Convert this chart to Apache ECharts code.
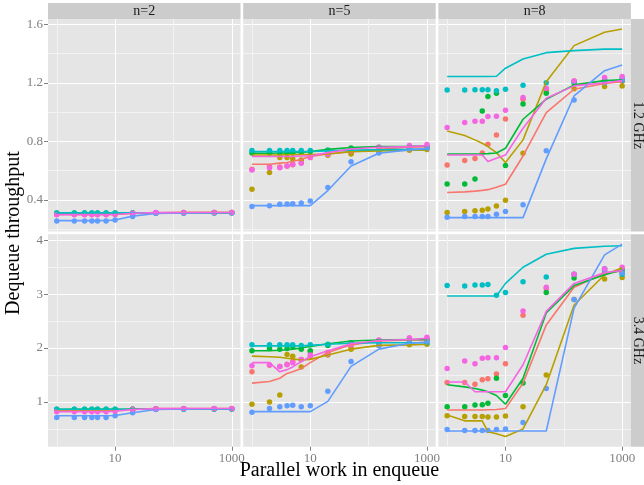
<!DOCTYPE html>
<html><head><meta charset="utf-8">
<script src="https://cdn.jsdelivr.net/npm/echarts@6/dist/echarts.min.js"></script>
<style>html,body{margin:0;padding:0;background:#fff}#c{width:644px;height:485px}</style>
</head><body><div id="c"></div>
<script>
// ---------- categories / ticks ----------
const xValues = [1, 2, 3, 4, 5, 7, 10, 20, 50, 150, 500, 1000];
const groupNames = ['g1', 'g2', 'g3', 'g4', 'g5', 'g6'];
const colColors = ['#F8766D', '#B79F00', '#00BA38', '#00BFC4', '#619CFF', '#F564E3'];
const colStrips = ['n=2', 'n=5', 'n=8'];
const rowStrips = ['1.2 GHz', '3.4 GHz'];
const xTickLabels = [10, 1000];
const xGridValues = [1, 10, 100, 1000];
const yTickLabelsTop = [0.4, 0.8, 1.2, 1.6];
const yGridTop = [0.2, 0.4, 0.6, 0.8, 1.0, 1.2, 1.4, 1.6];
const yTickLabelsBottom = [1, 2, 3, 4];
const yGridBottom = [0.5, 1, 1.5, 2, 2.5, 3, 3.5, 4];
const xTitle = 'Parallel work in enqueue';
const yTitle = 'Dequeue throughput';

// ---------- n=2, 1.2 GHz ----------
const n2_12_pts_g1 = [0.300,0.300,0.300,0.300,0.300,0.300,0.301,0.309,0.312,0.313,0.313,0.313];
const n2_12_pts_g2 = [0.305,0.305,0.305,0.305,0.305,0.305,0.306,0.309,0.312,0.313,0.313,0.313];
const n2_12_pts_g3 = [0.310,0.310,0.310,0.310,0.310,0.310,0.310,0.311,0.311,0.311,0.312,0.312];
const n2_12_pts_g4 = [0.311,0.311,0.311,0.311,0.311,0.311,0.311,0.311,0.311,0.311,0.311,0.311];
const n2_12_pts_g5 = [0.256,0.256,0.256,0.256,0.256,0.256,0.263,0.286,0.309,0.311,0.312,0.312];
const n2_12_pts_g6 = [0.299,0.299,0.299,0.299,0.299,0.299,0.300,0.309,0.313,0.314,0.314,0.314];
const n2_12_line_g1 = [0.300,0.300,0.300,0.300,0.300,0.300,0.301,0.309,0.312,0.313,0.313,0.313];
const n2_12_line_g2 = [0.305,0.305,0.305,0.305,0.305,0.305,0.306,0.309,0.312,0.313,0.313,0.313];
const n2_12_line_g3 = [0.310,0.310,0.310,0.310,0.310,0.310,0.310,0.311,0.311,0.311,0.312,0.312];
const n2_12_line_g4 = [0.311,0.311,0.311,0.311,0.311,0.311,0.311,0.311,0.311,0.311,0.311,0.311];
const n2_12_line_g5 = [0.258,0.258,0.258,0.258,0.258,0.259,0.262,0.289,0.307,0.311,0.312,0.312];
const n2_12_line_g6 = [0.299,0.299,0.299,0.299,0.299,0.299,0.300,0.309,0.313,0.314,0.314,0.314];

// ---------- n=2, 3.4 GHz ----------
const n2_34_pts_g1 = [0.84,0.84,0.84,0.84,0.84,0.84,0.845,0.865,0.876,0.876,0.876,0.876];
const n2_34_pts_g2 = [0.85,0.85,0.85,0.85,0.85,0.85,0.852,0.866,0.874,0.875,0.875,0.875];
const n2_34_pts_g3 = [0.864,0.864,0.864,0.864,0.864,0.864,0.864,0.866,0.868,0.869,0.87,0.87];
const n2_34_pts_g4 = [0.866,0.866,0.866,0.866,0.866,0.866,0.866,0.866,0.867,0.867,0.868,0.868];
const n2_34_pts_g5 = [0.71,0.71,0.71,0.71,0.71,0.71,0.746,0.80,0.86,0.872,0.875,0.876];
const n2_34_pts_g6 = [0.82,0.82,0.82,0.82,0.82,0.82,0.83,0.86,0.876,0.878,0.878,0.88];
const n2_34_line_g1 = [0.84,0.84,0.84,0.84,0.84,0.84,0.845,0.865,0.876,0.876,0.876,0.876];
const n2_34_line_g2 = [0.85,0.85,0.85,0.85,0.85,0.85,0.852,0.866,0.874,0.875,0.875,0.875];
const n2_34_line_g3 = [0.864,0.864,0.864,0.864,0.864,0.864,0.864,0.866,0.868,0.869,0.87,0.87];
const n2_34_line_g4 = [0.866,0.866,0.866,0.866,0.866,0.866,0.866,0.866,0.867,0.867,0.868,0.868];
const n2_34_line_g5 = [0.745,0.745,0.745,0.745,0.745,0.745,0.75,0.80,0.86,0.87,0.873,0.875];
const n2_34_line_g6 = [0.82,0.82,0.82,0.82,0.82,0.82,0.83,0.86,0.876,0.878,0.878,0.88];

// ---------- n=5, 1.2 GHz ----------
const n5_12_pts_g1 = [0.61,0.628,0.625,0.632,0.64,0.655,0.69,0.715,0.72,0.75,0.758,0.76];
const n5_12_pts_g2 = [0.473,0.587,0.69,0.69,0.68,0.673,0.70,0.705,0.714,0.73,0.74,0.745];
const n5_12_pts_g3 = [0.72,0.72,0.72,0.721,0.72,0.725,0.73,0.74,0.755,0.76,0.762,0.764];
const n5_12_pts_g4 = [0.737,0.737,0.737,0.737,0.737,0.737,0.737,0.74,0.745,0.75,0.752,0.755];
const n5_12_pts_g5 = [0.354,0.36,0.37,0.372,0.374,0.378,0.393,0.484,0.66,0.72,0.75,0.752];
const n5_12_pts_g6 = [0.605,0.62,0.62,0.632,0.643,0.65,0.69,0.712,0.735,0.76,0.771,0.778];
const n5_12_line_g1 = [0.644,0.644,0.651,0.655,0.662,0.678,0.696,0.714,0.73,0.746,0.76,0.764];
const n5_12_line_g2 = [0.707,0.707,0.707,0.708,0.708,0.71,0.71,0.714,0.73,0.735,0.74,0.74];
const n5_12_line_g3 = [0.719,0.719,0.72,0.721,0.722,0.725,0.73,0.745,0.758,0.764,0.766,0.768];
const n5_12_line_g4 = [0.73,0.73,0.73,0.73,0.73,0.73,0.731,0.735,0.74,0.743,0.745,0.747];
const n5_12_line_g5 = [0.361,0.361,0.361,0.361,0.361,0.361,0.361,0.464,0.632,0.719,0.742,0.75];
const n5_12_line_g6 = [0.696,0.696,0.696,0.696,0.696,0.70,0.70,0.723,0.748,0.76,0.764,0.771];

// ---------- n=5, 3.4 GHz ----------
const n5_34_pts_g1 = [1.56,1.68,1.66,1.70,1.75,1.79,1.84,1.92,2.02,2.10,2.15,2.17];
const n5_34_pts_g2 = [0.957,1.0,1.13,1.88,1.85,1.65,1.93,1.87,1.98,2.05,2.06,2.07];
const n5_34_pts_g3 = [1.95,1.99,1.98,1.99,2.03,1.98,1.95,2.05,2.10,2.14,2.15,2.16];
const n5_34_pts_g4 = [2.06,2.06,2.06,2.06,2.06,2.05,2.06,2.07,2.09,2.10,2.10,2.10];
const n5_34_pts_g5 = [0.81,0.88,0.91,0.93,0.94,0.91,0.93,1.20,1.75,2.05,2.10,2.12];
const n5_34_pts_g6 = [1.67,1.69,1.66,1.69,1.73,1.79,1.87,1.89,2.06,2.15,2.19,2.20];
const n5_34_line_g1 = [1.35,1.38,1.44,1.53,1.56,1.62,1.73,1.92,2.06,2.13,2.15,2.15];
const n5_34_line_g2 = [1.85,1.84,1.83,1.81,1.80,1.78,1.79,1.87,1.98,2.05,2.06,2.07];
const n5_34_line_g3 = [1.95,1.95,1.96,1.97,1.98,2.00,2.03,2.08,2.13,2.15,2.16,2.16];
const n5_34_line_g4 = [2.04,2.04,2.04,2.04,2.04,2.04,2.05,2.07,2.09,2.10,2.10,2.10];
const n5_34_line_g5 = [0.82,0.82,0.82,0.82,0.82,0.82,0.82,1.01,1.66,1.98,2.09,2.11];
const n5_34_line_g6 = [1.73,1.73,1.56,1.60,1.65,1.75,1.84,1.95,2.08,2.14,2.16,2.18];

// ---------- n=8, 1.2 GHz ----------
const n8_12_pts_g1 = [0.639,0.669,0.682,0.72,0.78,0.844,0.953,1.088,1.15,1.213,1.22,1.21];
const n8_12_pts_g2 = [0.313,0.32,0.325,0.33,0.338,0.359,0.398,0.719,1.156,1.16,1.174,1.179];
const n8_12_pts_g3 = [0.509,0.509,0.543,1.008,1.106,1.129,0.635,1.056,1.129,1.20,1.21,1.215];
const n8_12_pts_g4 = [1.151,1.151,1.153,1.153,1.153,1.145,1.156,1.183,1.20,1.207,1.218,1.23];
const n8_12_pts_g5 = [0.282,0.286,0.286,0.286,0.286,0.302,0.32,0.366,0.735,1.083,1.20,1.22];
const n8_12_pts_g6 = [0.894,0.928,0.937,0.937,0.969,0.971,1.012,1.10,1.163,1.213,1.236,1.243];
const n8_12_line_g1 = [0.45,0.455,0.46,0.465,0.47,0.487,0.507,0.70,0.997,1.156,1.195,1.208];
const n8_12_line_g2 = [0.871,0.84,0.81,0.787,0.764,0.723,0.655,0.81,1.208,1.454,1.545,1.568];
const n8_12_line_g3 = [0.714,0.714,0.714,0.715,0.716,0.72,0.753,0.951,1.088,1.186,1.215,1.22];
const n8_12_line_g4 = [1.243,1.243,1.243,1.243,1.243,1.245,1.30,1.363,1.406,1.42,1.43,1.43];
const n8_12_line_g5 = [0.279,0.279,0.279,0.279,0.279,0.279,0.279,0.279,0.68,1.11,1.283,1.322];
const n8_12_line_g6 = [0.707,0.707,0.707,0.707,0.662,0.685,0.707,0.89,1.094,1.179,1.20,1.215];

// ---------- n=8, 3.4 GHz ----------
const n8_34_pts_g1 = [1.36,1.36,1.33,1.41,1.43,1.52,1.71,2.61,3.10,3.37,3.45,3.40];
const n8_34_pts_g2 = [0.746,0.73,0.73,0.73,0.72,0.72,0.74,0.91,1.50,2.90,3.28,3.31];
const n8_34_pts_g3 = [0.913,0.913,0.944,0.95,0.975,1.44,1.12,1.35,3.03,3.30,3.40,3.45];
const n8_34_pts_g4 = [3.16,3.15,3.17,3.17,3.18,2.98,3.03,3.23,3.32,3.37,3.47,3.37];
const n8_34_pts_g5 = [0.49,0.47,0.47,0.47,0.47,0.49,0.50,0.62,1.25,2.90,3.45,3.40];
const n8_34_pts_g6 = [1.62,1.76,1.71,1.81,1.82,1.82,2.01,2.69,3.13,3.37,3.47,3.50];
const n8_34_line_g1 = [0.85,0.85,0.85,0.85,0.855,0.86,0.88,1.35,2.43,3.13,3.39,3.43];
const n8_34_line_g2 = [0.76,0.65,0.65,0.65,0.45,0.41,0.36,0.50,1.32,2.80,3.36,3.49];
const n8_34_line_g3 = [1.32,1.28,1.25,1.22,1.19,1.12,0.957,1.44,2.65,3.16,3.36,3.45];
const n8_34_line_g4 = [2.967,2.967,2.967,2.967,2.967,2.967,3.20,3.50,3.74,3.85,3.89,3.90];
const n8_34_line_g5 = [0.46,0.46,0.46,0.46,0.46,0.46,0.46,0.46,0.46,2.74,3.73,3.93];
const n8_34_line_g6 = [1.37,1.37,1.19,1.19,1.19,1.19,1.19,1.69,2.68,3.20,3.40,3.44];

// ---------- facets ----------
const facets = [
  {row:0,col:0,pts:[n2_12_pts_g1,n2_12_pts_g2,n2_12_pts_g3,n2_12_pts_g4,n2_12_pts_g5,n2_12_pts_g6],lines:[n2_12_line_g1,n2_12_line_g2,n2_12_line_g3,n2_12_line_g4,n2_12_line_g5,n2_12_line_g6]},
  {row:0,col:1,pts:[n5_12_pts_g1,n5_12_pts_g2,n5_12_pts_g3,n5_12_pts_g4,n5_12_pts_g5,n5_12_pts_g6],lines:[n5_12_line_g1,n5_12_line_g2,n5_12_line_g3,n5_12_line_g4,n5_12_line_g5,n5_12_line_g6]},
  {row:0,col:2,pts:[n8_12_pts_g1,n8_12_pts_g2,n8_12_pts_g3,n8_12_pts_g4,n8_12_pts_g5,n8_12_pts_g6],lines:[n8_12_line_g1,n8_12_line_g2,n8_12_line_g3,n8_12_line_g4,n8_12_line_g5,n8_12_line_g6]},
  {row:1,col:0,pts:[n2_34_pts_g1,n2_34_pts_g2,n2_34_pts_g3,n2_34_pts_g4,n2_34_pts_g5,n2_34_pts_g6],lines:[n2_34_line_g1,n2_34_line_g2,n2_34_line_g3,n2_34_line_g4,n2_34_line_g5,n2_34_line_g6]},
  {row:1,col:1,pts:[n5_34_pts_g1,n5_34_pts_g2,n5_34_pts_g3,n5_34_pts_g4,n5_34_pts_g5,n5_34_pts_g6],lines:[n5_34_line_g1,n5_34_line_g2,n5_34_line_g3,n5_34_line_g4,n5_34_line_g5,n5_34_line_g6]},
  {row:1,col:2,pts:[n8_34_pts_g1,n8_34_pts_g2,n8_34_pts_g3,n8_34_pts_g4,n8_34_pts_g5,n8_34_pts_g6],lines:[n8_34_line_g1,n8_34_line_g2,n8_34_line_g3,n8_34_line_g4,n8_34_line_g5,n8_34_line_g6]}
];

// ---------- layout / style ----------
const FONT = 'Liberation Serif';
const colLeft = [48, 243.2, 438.4];
const panelW = 192.5;
const rowTop = [19, 234.2];
const panelH = 212.5;
const xMin = Math.pow(10, -0.15), xMax = Math.pow(10, 3.15);
const yRanges = [[0.184, 1.636], [0.17, 4.113]];
const MAJOR = '#ffffff', MINOR = '#f2f2f2';
const GRAY = '#7f7f7f';

const grids = [], xAxes = [], yAxes = [], series = [];
facets.forEach((f, i) => {
  grids.push({left: colLeft[f.col], top: rowTop[f.row], width: panelW, height: panelH,
    show: true, backgroundColor: '#e5e5e5', borderWidth: 0});
  const yr = yRanges[f.row];
  const yGrid = f.row === 0 ? yGridTop : yGridBottom;
  const yLab = f.row === 0 ? yTickLabelsTop : yTickLabelsBottom;
  xAxes.push({type: 'log', logBase: 10, gridIndex: i, position: 'bottom', min: xMin, max: xMax,
    axisLine: {show: false}, axisTick: {show: false, customValues: xGridValues},
    axisLabel: {show: false}, splitLine: {show: true, lineStyle: {color: [MINOR, MAJOR], width: 1}}});
  const xi = xAxes.length - 1;
  yAxes.push({type: 'value', gridIndex: i, position: 'left', min: yr[0], max: yr[1],
    axisLine: {show: false}, axisTick: {show: false, customValues: yGrid},
    axisLabel: {show: false}, splitLine: {show: true, lineStyle: {color: [MINOR, MAJOR], width: 1}}});
  const yi = yAxes.length - 1;
  if (f.row === 1) {
    xAxes.push({type: 'log', logBase: 10, gridIndex: i, position: 'bottom', min: xMin, max: xMax,
      axisLine: {show: false},
      axisTick: {show: true, length: 4, customValues: xTickLabels, lineStyle: {color: GRAY, width: 1}},
      axisLabel: {show: true, customValues: xTickLabels, margin: 5, color: GRAY, fontFamily: FONT, fontSize: 13,
        formatter: v => String(Math.round(v))},
      splitLine: {show: false}});
  }
  if (f.col === 0) {
    yAxes.push({type: 'value', gridIndex: i, position: 'left', min: yr[0], max: yr[1],
      axisLine: {show: false},
      axisTick: {show: true, length: 4, customValues: yLab, lineStyle: {color: GRAY, width: 1}},
      axisLabel: {show: true, customValues: yLab, margin: 5, color: GRAY, fontFamily: FONT, fontSize: 13,
        formatter: v => f.row === 0 ? Number(v).toFixed(1) : String(Math.round(v))},
      splitLine: {show: false}});
  }
  f.pts.forEach((arr, s) => {
    series.push({type: 'scatter', name: groupNames[s], xAxisIndex: xi, yAxisIndex: yi,
      data: xValues.map((x, k) => [x, arr[k]]), symbolSize: 5.5,
      itemStyle: {color: colColors[s], opacity: 1}, z: 2 + s * 0.01});
  });
  f.lines.forEach((arr, s) => {
    series.push({type: 'line', name: groupNames[s], xAxisIndex: xi, yAxisIndex: yi,
      data: xValues.map((x, k) => [x, arr[k]]), showSymbol: false, symbol: 'none',
      lineStyle: {width: 1.6, color: colColors[s]}, itemStyle: {color: colColors[s]}, z: 3 + s * 0.01});
  });
});

const graphics = [];
colStrips.forEach((t, c) => {
  graphics.push({type: 'rect', shape: {x: colLeft[c], y: 3, width: panelW, height: 16}, style: {fill: '#cccccc'}, silent: true});
  graphics.push({type: 'text', x: colLeft[c] + panelW / 2, y: 11,
    style: {text: t, fill: '#1a1a1a', font: '14px "' + FONT + '"', align: 'center', verticalAlign: 'middle'}, silent: true});
});
rowStrips.forEach((t, r) => {
  graphics.push({type: 'rect', shape: {x: 630.9, y: rowTop[r], width: 14, height: panelH}, style: {fill: '#cccccc'}, silent: true});
  graphics.push({type: 'text', x: 637.5, y: rowTop[r] + panelH / 2, rotation: -Math.PI / 2,
    style: {text: t, fill: '#1a1a1a', font: '14px "' + FONT + '"', align: 'center', verticalAlign: 'middle'}, silent: true});
});
graphics.push({type: 'text', x: 339.4, y: 471,
  style: {text: xTitle, fill: '#000', font: '20px "' + FONT + '"', align: 'center', verticalAlign: 'middle'}, silent: true});
graphics.push({type: 'text', x: 14, y: 233, rotation: Math.PI / 2,
  style: {text: yTitle, fill: '#000', font: '20px "' + FONT + '"', align: 'center', verticalAlign: 'middle'}, silent: true});

const chart = echarts.init(document.getElementById('c'), null, {renderer: 'canvas'});
chart.setOption({
  animation: false,
  backgroundColor: '#ffffff',
  grid: grids, xAxis: xAxes, yAxis: yAxes, series: series, graphic: graphics
});
</script></body></html>
